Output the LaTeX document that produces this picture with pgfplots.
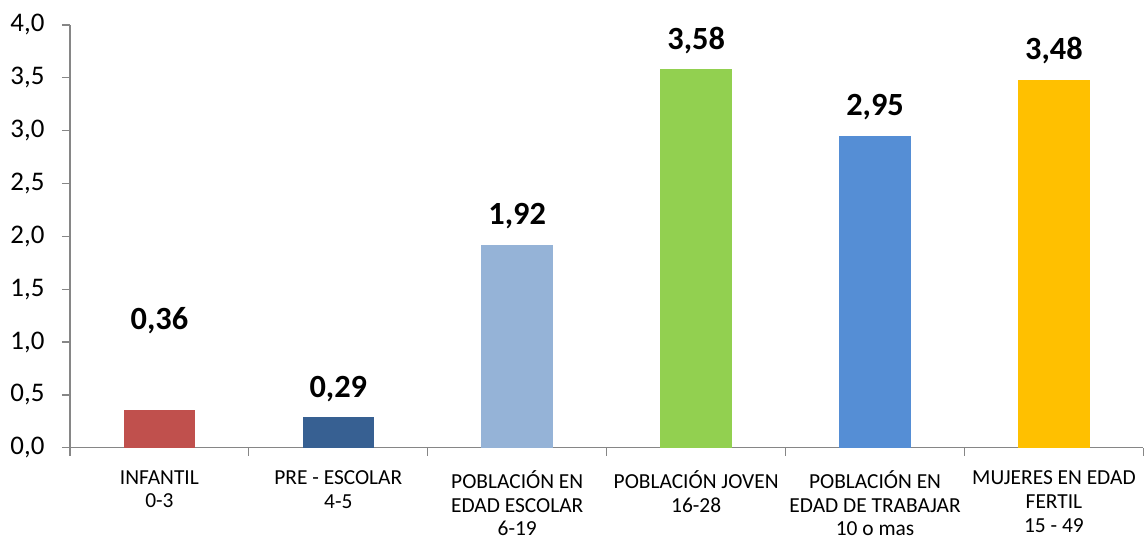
\documentclass[border=0pt]{standalone}
\usepackage{fontspec}
\setmainfont{Carlito}
\usepackage{pgfplots}
\pgfplotsset{compat=1.18}
\definecolor{c1}{HTML}{C0504D}
\definecolor{c2}{HTML}{376092}
\definecolor{c3}{HTML}{95B3D7}
\definecolor{c4}{HTML}{92D050}
\definecolor{c5}{HTML}{558ED5}
\definecolor{c6}{HTML}{FFC000}
\definecolor{axgray}{HTML}{868686}
\begin{document}
\begin{tikzpicture}
\begin{axis}[
  scale only axis,
  width=1074bp, height=423bp,
  ybar, bar width=0.4, bar shift=0pt,
  xmin=-0.5, xmax=5.5,
  ymin=0, ymax=4,
  ytick={0,0.5,...,4},
  axis lines*=left,
  axis line style={axgray, line width=1.2bp},
  every tick/.style={axgray, line width=1.2bp},
  y tick label style={font=\fontsize{27}{30}\selectfont, xshift=-14bp, /pgf/number format/use comma, /pgf/number format/fixed, /pgf/number format/fixed zerofill, /pgf/number format/precision=1, /pgf/number format/assume math mode=true},
  major tick length=8bp,
  ytick style={axgray},
  tick align=outside,
  xtick={0,...,5},
  major x tick style={draw=none},
  minor xtick={-0.5,0.5,...,5.5},
  minor tick length=8bp,
  minor x tick style={axgray, line width=1.2bp},
  xticklabels={{INFANTIL\\0-3},{PRE - ESCOLAR\\4-5},{POBLACIÓN EN\\EDAD ESCOLAR\\6-19},{POBLACIÓN JOVEN\\16-28},{POBLACIÓN EN\\EDAD DE TRABAJAR\\10 o mas},{MUJERES EN EDAD\\FERTIL\\15 - 49}},
  x tick label style={font=\fontsize{21.5}{24}\selectfont, align=center, anchor=north, yshift=-11bp},
  nodes near coords,
  nodes near coords style={font=\fontsize{32.5}{36}\bfseries\selectfont, anchor=base, yshift=20bp, /pgf/number format/use comma, /pgf/number format/fixed, /pgf/number format/fixed zerofill, /pgf/number format/precision=2, /pgf/number format/assume math mode=true},
  clip=false,
]
\addplot[fill=c1, draw=none, nodes near coords style={yshift=60bp}] coordinates {(0,0.36)};
\addplot[fill=c2, draw=none] coordinates {(1,0.29)};
\addplot[fill=c3, draw=none] coordinates {(2,1.92)};
\addplot[fill=c4, draw=none] coordinates {(3,3.58)};
\addplot[fill=c5, draw=none] coordinates {(4,2.95)};
\addplot[fill=c6, draw=none] coordinates {(5,3.48)};
\end{axis}
\path (current axis.south west) ++(-70bp,-87bp) rectangle ([yshift=25bp]current axis.north east);
\end{tikzpicture}
\end{document}
